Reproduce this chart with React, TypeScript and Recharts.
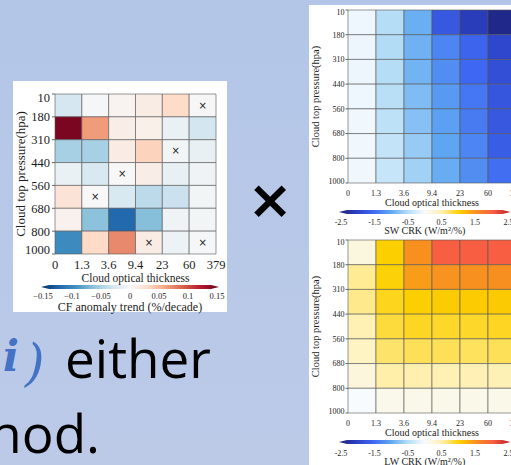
import React from 'react'
import { ScatterChart, Scatter, XAxis, YAxis, ReferenceArea } from 'recharts'

// tick labels
const pressureTicks = ['10', '180', '310', '440', '560', '680', '800', '1000']
const tauTicks = ['0', '1.3', '3.6', '9.4', '23', '60', '379']
const cfBarTicks = [-0.15, -0.1, -0.05, 0, 0.05, 0.1, 0.15]
const crkBarTicks = [-2.5, -1.5, -0.5, 0.5, 1.5, 2.5]

// CF anomaly trend (%/decade), rows top (10 hPa) to bottom (1000 hPa)
const cfTrend = [
  [-0.026, -0.002, 0.004, 0.012, 0.028, -0.001],
  [0.142, 0.064, 0.01, 0.008, -0.01, -0.028],
  [-0.05, -0.05, 0.012, 0.034, -0.004, -0.012],
  [-0.01, -0.024, 0.0, 0.01, -0.012, -0.006],
  [0.02, 0.0, -0.024, -0.04, -0.033, -0.004],
  [0.006, -0.062, -0.118, -0.064, -0.006, -0.004],
  [-0.096, 0.03, 0.072, 0.012, -0.009, -0.002],
]
// cells marked with a cross [row, col]
const cfMarked = [[0, 5], [2, 4], [3, 2], [4, 1], [6, 3], [6, 5]]

// SW cloud radiative kernel (W/m2/%)
const swCrk = [
  [-0.07, -0.48, -0.92, -1.7, -2.05, -2.35],
  [-0.08, -0.5, -0.9, -1.27, -1.55, -1.9],
  [-0.08, -0.48, -0.88, -1.2, -1.5, -1.8],
  [-0.07, -0.45, -0.8, -1.1, -1.38, -1.72],
  [-0.06, -0.42, -0.76, -1.05, -1.35, -1.7],
  [-0.05, -0.38, -0.66, -1.0, -1.27, -1.64],
  [-0.05, -0.36, -0.6, -0.94, -1.2, -1.45],
]

// LW cloud radiative kernel (W/m2/%)
const lwCrk = [
  [0.2, 1.0, 1.5, 1.97, 1.97, 1.97],
  [0.58, 0.98, 1.4, 1.48, 1.5, 1.52],
  [0.6, 0.92, 1.0, 1.03, 1.04, 1.05],
  [0.48, 0.83, 0.9, 0.88, 0.88, 0.9],
  [0.38, 0.7, 0.75, 0.75, 0.74, 0.75],
  [0.22, 0.52, 0.5, 0.48, 0.47, 0.46],
  [0.0, 0.12, 0.14, 0.14, 0.14, 0.14],
]

const SERIF = '"Liberation Serif", "Times New Roman", serif'
const INK = '#1c1c1c'

const rdbu = ['#053061', '#2166ac', '#4393c3', '#92c5de', '#d1e5f0', '#f7f7f7', '#fddbc7', '#f4a582', '#d6604d', '#b2182b', '#67001f']
const crkMap = ['#1b1f70', '#2b3fc2', '#3f68f2', '#5ea6f2', '#b2dcf6', '#f8fbfe', '#fff0b0', '#fcd000', '#f7901f', '#f85c44', '#b31e1e']

const hex = (h: string) => [1, 3, 5].map((i) => parseInt(h.slice(i, i + 2), 16))

function colorAt(stops: string[], lo: number, hi: number, v: number) {
  const t = Math.min(1, Math.max(0, (v - lo) / (hi - lo))) * (stops.length - 1)
  const i = Math.min(stops.length - 2, Math.floor(t))
  const f = t - i
  const a = hex(stops[i])
  const b = hex(stops[i + 1])
  return `rgb(${a.map((c, k) => Math.round(c + (b[k] - c) * f)).join(',')})`
}

interface Geo {
  width: number
  height: number
  top: number
  right: number
  yw: number
  xh: number
  tick: number
  xTitle: number
  yTitle: number
  xTickMargin: number
  yTickSize: number
  yTickMargin: number
  xTitleOffset: number
  yTitleOffset: number
  edge: number
  cross: number
}

interface HeatmapProps {
  values: number[][]
  stops: string[]
  lo: number
  hi: number
  marked?: number[][]
  g: Geo
}

function Heatmap({ values, stops, lo, hi, marked = [], g }: HeatmapProps) {
  const cells = values.flatMap((row, r) =>
    row.map((v, c) => ({ r, c, v, x: c + 0.5, y: r + 0.5, mark: marked.some(([mr, mc]) => mr === r && mc === c) })),
  )
  const last = pressureTicks.length - 1
  return (
    <ScatterChart width={g.width} height={g.height} margin={{ top: g.top, right: g.right, left: 0, bottom: 0 }}>
      <XAxis
        type="number"
        dataKey="x"
        domain={[0, 6]}
        ticks={tauTicks.map((_, i) => i)}
        interval={0}
        height={g.xh}
        axisLine={false}
        tickLine={false}
        tickSize={0}
        tickMargin={g.xTickMargin}
        tick={(p: any) => (
          <text x={p.x} y={p.y} dy="0.71em" textAnchor="middle" fontSize={g.tick} fontFamily={SERIF} fill={INK}>
            {tauTicks[p.payload.value]}
          </text>
        )}
        label={{
          value: 'Cloud optical thickness',
          position: 'insideBottom',
          offset: g.xTitleOffset,
          fontSize: g.xTitle,
          fontFamily: SERIF,
          fill: INK,
        }}
      />
      <YAxis
        type="number"
        dataKey="y"
        domain={[0, 7]}
        reversed
        ticks={pressureTicks.map((_, i) => i)}
        interval={0}
        width={g.yw}
        axisLine={false}
        tickLine={{ stroke: '#666' }}
        tickSize={g.yTickSize}
        tickMargin={g.yTickMargin}
        tick={(p: any) => {
          const i = p.payload.value
          const shift = i === 0 ? g.edge : i === last ? -g.edge : 0
          return (
            <text x={p.x} y={p.y + shift} dy="0.355em" textAnchor="end" fontSize={g.tick} fontFamily={SERIF} fill={INK}>
              {pressureTicks[i]}
            </text>
          )
        }}
        label={{
          value: 'Cloud top pressure(hpa)',
          angle: -90,
          position: 'insideLeft',
          offset: g.yTitleOffset,
          fontSize: g.yTitle,
          fontFamily: SERIF,
          fill: INK,
          style: { textAnchor: 'middle' },
        }}
      />
      {cells.map((cell) => (
        <ReferenceArea
          key={`${cell.r}-${cell.c}`}
          x1={cell.c}
          x2={cell.c + 1}
          y1={cell.r}
          y2={cell.r + 1}
          fill={colorAt(stops, lo, hi, cell.v)}
          fillOpacity={1}
          stroke="#555"
          strokeOpacity={0.75}
          strokeWidth={0.8}
        />
      ))}
      <Scatter
        data={cells}
        isAnimationActive={false}
        shape={(p: any) =>
          p.payload && p.payload.mark ? (
            <text x={p.cx} y={p.cy} dy="0.33em" textAnchor="middle" fontSize={g.cross} fontFamily="DejaVu Sans" fill={INK}>
              ×
            </text>
          ) : (
            <g />
          )
        }
      />
    </ScatterChart>
  )
}

interface BarProps {
  id: string
  stops: string[]
  lo: number
  hi: number
  ticks: number[]
  fmt: (v: number) => string
  title: string
  width: number
  left: number
  right: number
  top: number
  thick: number
  axisH: number
  tickFont: number
  tickMargin: number
  titleFont: number
  titleOffset: number
}

function ColorBar(b: BarProps) {
  const anchors = b.ticks.map((t) => ({ x: t, y: 0.5 }))
  return (
    <ScatterChart width={b.width} height={b.top + b.thick + b.axisH} margin={{ top: b.top, right: b.right, left: b.left, bottom: 0 }}>
      <defs>
        <linearGradient id={b.id} x1="0" y1="0" x2="1" y2="0">
          {b.stops.map((c, i) => (
            <stop key={i} offset={i / (b.stops.length - 1)} stopColor={c} />
          ))}
        </linearGradient>
      </defs>
      <XAxis
        type="number"
        dataKey="x"
        domain={[b.lo, b.hi]}
        ticks={b.ticks}
        interval={0}
        height={b.axisH}
        axisLine={false}
        tickLine={false}
        tickSize={0}
        tickMargin={b.tickMargin}
        tick={(p: any) => (
          <text x={p.x} y={p.y} dy="0.71em" textAnchor="middle" fontSize={b.tickFont} fontFamily={SERIF} fill={INK}>
            {b.fmt(p.payload.value)}
          </text>
        )}
        label={{ value: b.title, position: 'insideBottom', offset: b.titleOffset, fontSize: b.titleFont, fontFamily: SERIF, fill: INK }}
      />
      <YAxis type="number" dataKey="y" domain={[0, 1]} hide />
      <ReferenceArea
        x1={b.lo}
        x2={b.hi}
        y1={0}
        y2={1}
        fillOpacity={1}
        shape={(p: any) => {
          const e = 6
          const { x, y, width: w, height: h } = p
          const pts = [
            [x - 2, y + h / 2],
            [x + e, y],
            [x + w - e, y],
            [x + w + 2, y + h / 2],
            [x + w - e, y + h],
            [x + e, y + h],
          ]
          return <polygon points={pts.map((q) => q.join(',')).join(' ')} fill={`url(#${b.id})`} />
        }}
      />
      <Scatter data={anchors} isAnimationActive={false} shape={() => <g />} />
    </ScatterChart>
  )
}

const leftGeo: Geo = {
  width: 214, height: 205, top: 13, right: 11, yw: 42, xh: 32,
  tick: 12.5, xTitle: 11.5, yTitle: 13, xTickMargin: 6, yTickSize: 3, yTickMargin: 2,
  xTitleOffset: 4, yTitleOffset: 7, edge: 4, cross: 10,
}

const rightGeo: Geo = {
  width: 215, height: 213, top: 10, right: 8, yw: 39, xh: 30,
  tick: 8, xTitle: 10, yTitle: 10.5, xTickMargin: 7, yTickSize: 2.5, yTickMargin: 1,
  xTitleOffset: 7, yTitleOffset: 6, edge: 2, cross: 8,
}

const cfFmt = (v: number) => (v < 0 ? '\u2212' + String(-v) : String(v))
const crkFmt = (v: number) => String(v)

const abs = (left: number, top: number): React.CSSProperties => ({ position: 'absolute', left, top })

export default function App() {
  return (
    <div
      style={{
        position: 'absolute',
        left: 0,
        top: 0,
        width: 511,
        height: 465,
        overflow: 'hidden',
        background: 'linear-gradient(#b3c6e7, #bccae8)',
      }}
    >
      <div style={{ ...abs(13, 81), width: 214, height: 231, background: '#fff' }} />
      <div style={{ ...abs(309, 5), width: 210, height: 470, background: '#fff' }} />

      <div style={abs(13, 81)}>
        <Heatmap values={cfTrend} stops={rdbu} lo={-0.15} hi={0.15} marked={cfMarked} g={leftGeo} />
      </div>
      <div style={abs(13, 281)}>
        <ColorBar
          id="cbCf" stops={rdbu} lo={-0.15} hi={0.15} ticks={cfBarTicks} fmt={cfFmt}
          title="CF anomaly trend (%/decade)" width={214} left={30} right={10} top={4} thick={4}
          axisH={27} tickFont={8.5} tickMargin={4} titleFont={12} titleOffset={5}
        />
      </div>

      <div style={{ ...abs(309, 0), width: 215 }}>
        <Heatmap values={swCrk} stops={crkMap} lo={-2.5} hi={2.5} g={rightGeo} />
      </div>
      <div style={{ ...abs(309, 208), width: 215 }}>
        <ColorBar
          id="cbSw" stops={crkMap} lo={-2.5} hi={2.5} ticks={crkBarTicks} fmt={crkFmt}
          title="SW CRK (W/m²/%)" width={215} left={32} right={15.5} top={2} thick={4}
          axisH={22} tickFont={8} tickMargin={5} titleFont={10} titleOffset={2.5}
        />
      </div>

      <div style={{ ...abs(309, 230), width: 215 }}>
        <Heatmap values={lwCrk} stops={crkMap} lo={-2.5} hi={2.5} g={rightGeo} />
      </div>
      <div style={{ ...abs(309, 438), width: 215 }}>
        <ColorBar
          id="cbLw" stops={crkMap} lo={-2.5} hi={2.5} ticks={crkBarTicks} fmt={crkFmt}
          title="LW CRK (W/m²/%)" width={215} left={32} right={15.5} top={2} thick={4}
          axisH={22} tickFont={8} tickMargin={6} titleFont={10} titleOffset={1.5}
        />
      </div>

      <svg width={511} height={465} style={{ position: 'absolute', left: 0, top: 0, pointerEvents: 'none' }}>
        <text x={270} y={199} dy="0.35em" textAnchor="middle" fontSize={54} fontWeight="bold" fontFamily="DejaVu Sans" fill="#000">
          ×
        </text>
        <text x={3} y={371} fontSize={42} fontWeight="bold" fontStyle="italic" fontFamily="DejaVu Serif" fill="#4472c4">
          i
        </text>
        <text x={25} y={380} fontSize={50} fontStyle="italic" fontFamily="DejaVu Serif" fill="#4472c4">
          )
        </text>
        <text x={65} y={378} fontSize={53} fontFamily="Open Sans" fill="#000">
          either
        </text>
        <text x={100} y={453} textAnchor="end" fontSize={53} fontFamily="Open Sans" fill="#000">
          hod.
        </text>
      </svg>
    </div>
  )
}
